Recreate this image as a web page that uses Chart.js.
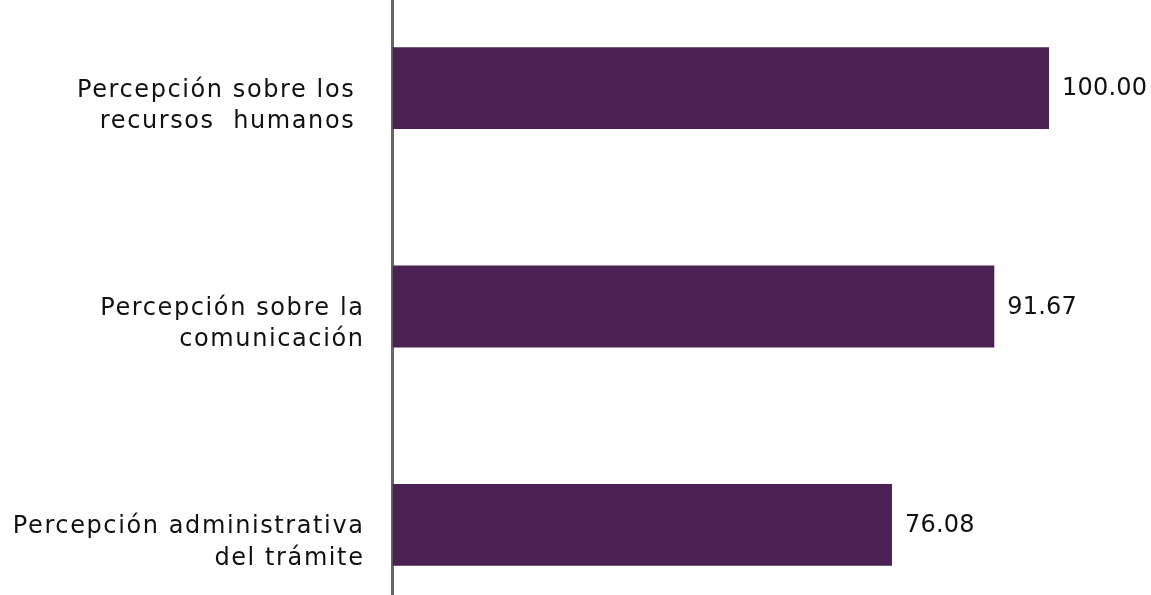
<!DOCTYPE html>
<html>
<head>
<meta charset="utf-8">
<script src="https://cdn.jsdelivr.net/npm/chart.js@4"></script>
<style>
  html, body { margin: 0; padding: 0; background: #fff; }
  .marco { position: relative; width: 1151px; height: 595px; overflow: hidden; }
  .grafico { position: absolute; left: 0; top: -21px; width: 1151px; height: 655px; }
</style>
</head>
<body>
<div class="marco">
  <div class="grafico"><canvas id="myChart"></canvas></div>
</div>
<script>
const categorias = [
  ["Percepción sobre los ", "recursos  humanos "],
  ["Percepción sobre la", "comunicación"],
  ["Percepción administrativa", "del trámite"]
];
const valores = [100.00, 91.67, 76.08];

const fuente = "'DejaVu Sans', sans-serif";

// letras un poco más abiertas en las etiquetas del eje
const espaciado = {
  id: 'espaciado',
  beforeDraw(chart) {
    chart.ctx.letterSpacing = '1.6px';
  }
};

// escribe el valor a la derecha de cada barra
const etiquetas = {
  id: 'etiquetas',
  afterDatasetsDraw(chart) {
    const ctx = chart.ctx;
    const meta = chart.getDatasetMeta(0);
    ctx.save();
    ctx.letterSpacing = '0.2px';
    ctx.font = "24px " + fuente;
    ctx.fillStyle = "#111";
    ctx.textAlign = "left";
    ctx.textBaseline = "middle";
    meta.data.forEach((barra, i) => {
      ctx.fillText(valores[i].toFixed(2), barra.x + 13, barra.y + 1);
    });
    ctx.restore();
  }
};

const ctx = document.getElementById('myChart');

new Chart(ctx, {
  type: 'bar',
  data: {
    labels: categorias,
    datasets: [{
      data: valores,
      backgroundColor: '#4b2052',
      borderWidth: 0,
      categoryPercentage: 1,
      barPercentage: 0.375
    }]
  },
  options: {
    indexAxis: 'y',
    responsive: true,
    maintainAspectRatio: false,
    animation: false,
    layout: { padding: { left: 0, right: 102, top: 0, bottom: 0 } },
    plugins: {
      legend: { display: false },
      tooltip: { enabled: false }
    },
    scales: {
      x: {
        display: false,
        min: 0,
        max: 100
      },
      y: {
        grid: { display: false, drawTicks: false },
        border: { display: true, color: '#666', width: 3 },
        ticks: {
          padding: 28,
          labelOffset: 18,
          color: '#111',
          font: { family: fuente, size: 24, lineHeight: 1.3 }
        },
        afterFit(scale) {
          scale.width = 392.5;
          scale.paddingTop = 0;
          scale.paddingBottom = 0;
        }
      }
    }
  },
  plugins: [espaciado, etiquetas]
});
</script>
</body>
</html>
